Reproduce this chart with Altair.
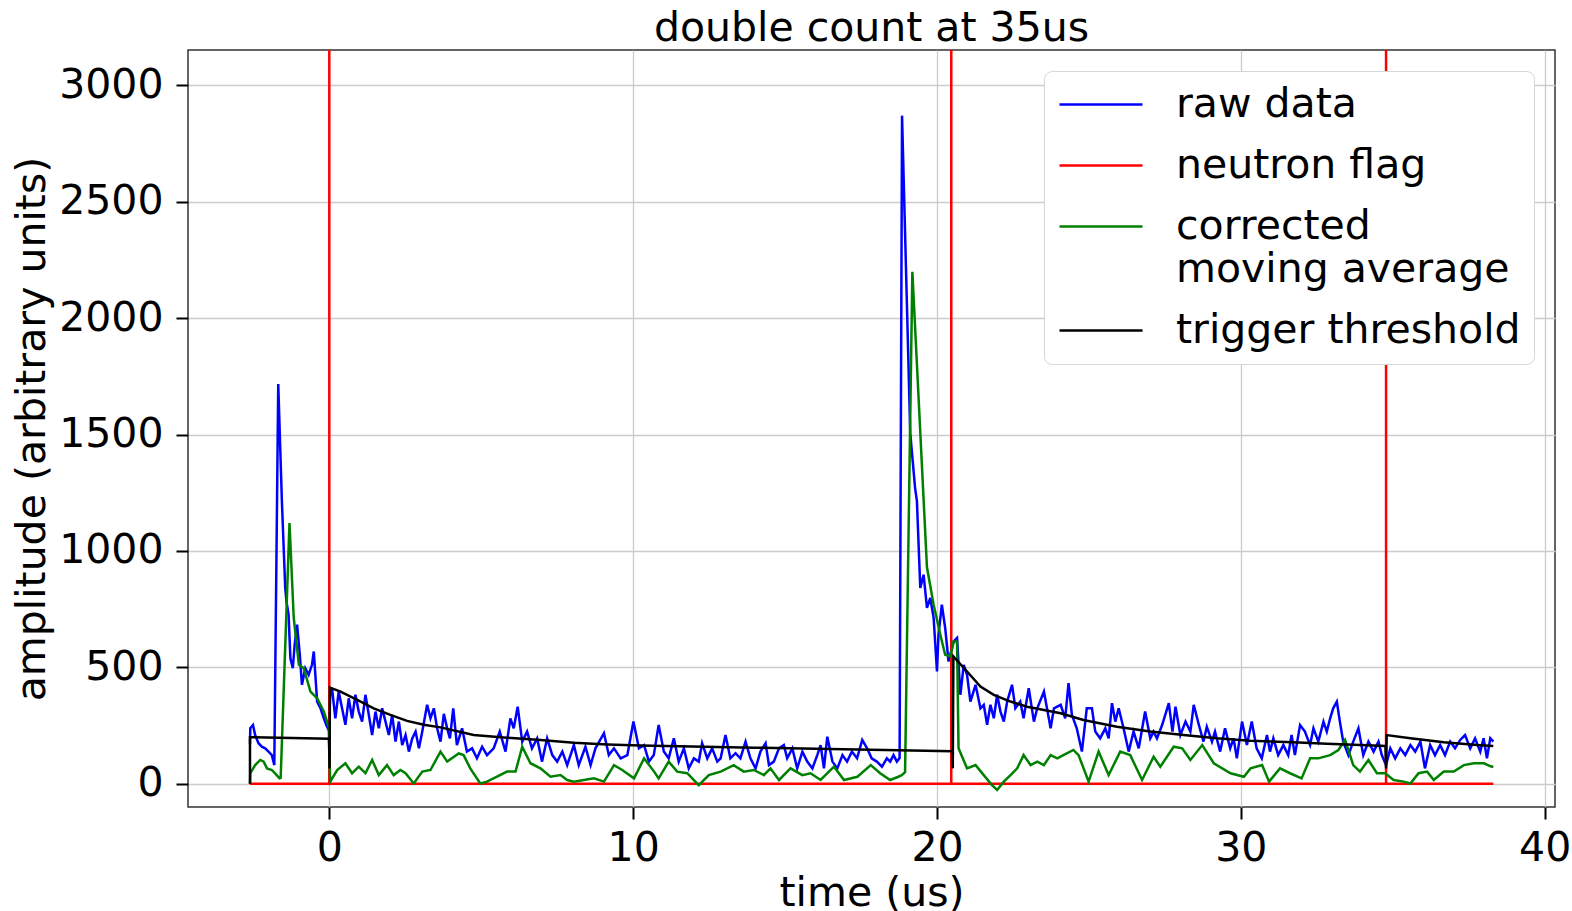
import altair as alt
import pandas as pd

SERIES = ["raw data", "neutron flag", "corrected moving average", "trigger threshold"]
COLORS = ["#0000ff", "#ff0000", "#008000", "#000000"]

raw_t = [-2.61, -2.60, -2.51, -2.44, -2.33, -2.22, -2.11, -2.00, -1.89, -1.81, -1.68, -1.56, -1.45, -1.41,
         -1.34, -1.28, -1.20, -1.14, -1.06, -0.97, -0.90, -0.79, -0.68, -0.57, -0.51, -0.40, -0.29, -0.18,
         -0.10, -0.02, 0.03, 0.09, 0.20, 0.31, 0.42, 0.53, 0.64, 0.75, 0.86, 0.97, 1.08, 1.19, 1.30, 1.41,
         1.52, 1.63, 1.74, 1.85, 1.96, 2.07, 2.18, 2.29, 2.40, 2.51, 2.62, 2.73, 2.84, 2.95, 3.06, 3.22,
         3.33, 3.44, 3.55, 3.66, 3.77, 3.88, 3.97, 4.08, 4.20, 4.37, 4.53, 4.70, 4.86, 5.03, 5.19, 5.41,
         5.61, 5.80, 5.96, 6.07, 6.20, 6.35, 6.51, 6.67, 6.84, 7.00, 7.17, 7.34, 7.50, 7.67, 7.83, 8.05,
         8.21, 8.43, 8.60, 8.76, 9.04, 9.20, 9.37, 9.59, 9.81, 10.01, 10.19, 10.36, 10.52, 10.68, 10.84,
         11.01, 11.17, 11.34, 11.50, 11.67, 11.83, 12.00, 12.16, 12.27, 12.44, 12.60, 12.77, 12.88, 13.04,
         13.20, 13.37, 13.53, 13.70, 13.86, 14.03, 14.19, 14.36, 14.47, 14.63, 14.80, 14.96, 15.07, 15.24,
         15.40, 15.57, 15.73, 15.90, 16.06, 16.17, 16.28, 16.39, 16.56, 16.72, 16.89, 17.04, 17.20, 17.37,
         17.54, 17.70, 17.85, 18.02, 18.19, 18.35, 18.46, 18.57, 18.68, 18.77, 18.85, 19.12, 19.28, 19.34,
         19.45, 19.56, 19.67, 19.78, 19.89, 20.00, 20.05, 20.16, 20.27, 20.38, 20.55, 20.66, 20.77, 20.88,
         20.99, 21.10, 21.27, 21.43, 21.54, 21.65, 21.76, 21.87, 21.98, 22.09, 22.20, 22.31, 22.47, 22.58,
         22.74, 22.85, 23.02, 23.19, 23.30, 23.52, 23.74, 23.85, 24.07, 24.22, 24.33, 24.44, 24.60, 24.77,
         24.93, 25.10, 25.21, 25.37, 25.54, 25.65, 25.76, 25.87, 25.98, 26.14, 26.31, 26.47, 26.64, 26.85,
         27.02, 27.13, 27.24, 27.41, 27.63, 27.75, 27.85, 28.01, 28.18, 28.34, 28.45, 28.62, 28.77, 28.88,
         29.05, 29.15, 29.32, 29.48, 29.65, 29.76, 29.87, 30.04, 30.20, 30.36, 30.52, 30.69, 30.86, 30.96,
         31.07, 31.23, 31.40, 31.56, 31.67, 31.78, 31.95, 32.11, 32.28, 32.39, 32.55, 32.72, 32.83, 32.94,
         33.04, 33.16, 33.26, 33.37, 33.54, 33.70, 33.87, 34.03, 34.20, 34.37, 34.53, 34.64, 34.78, 34.92,
         35.08, 35.25, 35.41, 35.58, 35.74, 35.91, 36.06, 36.23, 36.39, 36.56, 36.72, 36.89, 37.05, 37.22,
         37.38, 37.55, 37.71, 37.88, 37.99, 38.10, 38.21, 38.31]
raw_v = [170, 238, 252, 209, 174, 159, 152, 138, 123, 80, 1717, 1214, 841, 783,
         726, 539, 496, 597, 683, 554, 425, 496, 468, 511, 568, 353, 324, 281,
         253, 230, 380, 410, 281, 396, 324, 253, 367, 281, 382, 310, 267, 382, 296, 209,
         310, 238, 324, 267, 209, 296, 181, 267, 166, 209, 138, 195, 224, 152, 224, 339,
         281, 324, 238, 181, 300, 238, 195, 324, 166, 238, 138, 152, 109, 159, 123, 152,
         224, 138, 281, 238, 331, 181, 224, 152, 195, 95, 195, 123, 95, 138, 80, 166,
         80, 159, 80, 152, 217, 123, 152, 109, 123, 267, 152, 166, 95, 123, 252,
         138, 109, 195, 95, 152, 66, 109, 95, 174, 109, 152, 95, 109, 209,
         109, 131, 109, 181, 109, 66, 138, 174, 80, 95, 152, 166, 109, 152,
         66, 138, 95, 66, 123, 166, 66, 202, 95, 66, 123, 95, 138, 109,
         188, 152, 109, 95, 73, 109, 95, 123, 95, 110, 2870, 1506, 1270, 1214,
         841, 898, 755, 798, 712, 482, 640, 769, 669, 525, 611, 626, 382, 511,
         468, 353, 425, 324, 339, 253, 339, 281, 382, 310, 267, 353, 425, 324,
         353, 281, 410, 267, 324, 396, 238, 324, 339, 281, 432, 296, 238, 138,
         324, 324, 224, 195, 238, 195, 346, 267, 324, 238, 138, 224, 152, 310,
         195, 224, 195, 252, 346, 224, 331, 209, 267, 224, 339, 252, 181, 245,
         181, 224, 138, 238, 152, 195, 109, 267, 166, 267, 152, 109, 209, 138,
         195, 123, 166, 123, 209, 123, 252, 224, 166, 238, 181, 267, 224, 281,
         324, 353, 267, 181, 123, 181, 238, 123, 181, 138, 181, 123, 80, 152,
         109, 152, 123, 166, 138, 181, 66, 166, 123, 166, 123, 181, 152, 188,
         209, 152, 195, 138, 195, 109, 195, 181]

ma_t = [-2.61, -2.60, -2.44, -2.27, -2.16, -2.05, -1.89, -1.73, -1.64, -1.60, -1.31, -1.17, -1.00, -0.84,
        -0.62, -0.40, -0.18, -0.02, 0.03, 0.26, 0.53, 0.75, 0.97, 1.19, 1.41, 1.63, 1.90, 2.12, 2.34,
        2.51, 2.78, 3.06, 3.33, 3.66, 3.88, 4.26, 4.42, 4.64, 4.97, 5.19, 5.52, 5.85, 6.13, 6.35, 6.62,
        6.95, 7.28, 7.61, 7.83, 8.05, 8.38, 8.71, 9.04, 9.37, 9.64, 10.03, 10.36, 10.69, 10.84, 11.17,
        11.45, 11.78, 12.16, 12.49, 12.88, 13.31, 13.64, 13.97, 14.30, 14.52, 14.80, 15.18, 15.57, 15.84,
        16.17, 16.61, 16.94, 17.38, 17.82, 18.13, 18.46, 18.73, 18.84, 18.95, 19.19, 19.67, 19.89, 20.11,
        20.27, 20.44, 20.55, 20.66, 20.71, 20.99, 21.27, 21.54, 21.81, 21.98, 22.20, 22.42, 22.64, 22.85,
        23.08, 23.30, 23.52, 23.74, 23.96, 24.16, 24.49, 24.66, 24.99, 25.32, 25.65, 26.03, 26.36, 26.75,
        27.13, 27.35, 27.79, 28.07, 28.34, 28.73, 29.11, 29.66, 30.10, 30.32, 30.70, 30.93, 31.29, 31.62,
        32.00, 32.28, 32.55, 32.94, 33.21, 33.43, 33.70, 33.92, 34.20, 34.48, 34.75, 35.03, 35.36, 35.58,
        35.85, 36.13, 36.35, 36.68, 37.01, 37.34, 37.67, 38.00, 38.22, 38.31]
ma_v = [0, 45, 80, 102, 95, 66, 59, 37, 23, 25, 1120, 712, 511, 496,
        396, 367, 310, 245, 9, 59, 88, 45, 73, 45, 102, 37, 80, 37, 59,
        45, 1, 52, 59, 138, 95, 130, 123, 66, 1, 9, 30, 52, 52, 159, 88,
        66, 30, 37, 16, 9, 16, 23, 9, 80, 59, 23, 109, 52, 23, 95,
        52, 45, -6, 37, 52, 80, 52, 59, 37, 66, 16, 66, 37, 45,
        16, 73, 16, 30, 80, 45, 16, 30, 37, 50, 2199, 930, 769, 640,
        554, 547, 611, 611, 152, 66, 80, 37, -6, -27, 9, 37, 66, 123,
        80, 95, 80, 123, 109, 123, 145, 123, 9, 138, 37, 138, 123, 16,
        116, 73, 159, 152, 102, 166, 88, 45, 30, 66, 80, 9, 66, 45,
        23, 109, 109, 123, 145, 188, 80, 52, 102, 45, 45, 16, 9, 1,
        45, 52, 16, 52, 52, 80, 88, 88, 75, 72]

thr_t = [-2.61, -2.61, -0.01, 0.01, 0.02, 0.37, 0.92, 1.46, 2.01, 2.56, 3.11, 3.66, 4.75, 5.85, 6.95,
         8.05, 9.15, 10.25, 14.00, 17.82, 20.50, 20.52, 20.54, 20.99, 21.43, 21.87, 22.42, 22.97, 23.52,
         24.07, 24.82, 25.92, 27.02, 28.12, 29.21, 30.31, 31.73, 32.83, 33.93, 34.76, 34.78, 34.80,
         35.58, 36.68, 37.78, 38.31]
thr_v = [0, 200, 193, 66, 413, 396, 360, 324, 296, 270, 253, 242, 209, 198, 188,
         176, 169, 164, 155, 146, 140, 66, 547, 482, 417, 382, 353, 331, 317,
         303, 274, 245, 224, 209, 195, 185, 178, 172, 166, 162, 66, 209,
         195, 178, 166, 162]

flag_t = [-2.61, 0.0, 0.0, 0.0, 20.47, 20.47, 20.47, 34.78, 34.78, 34.78, 38.31]
flag_v = [0, 0, 5000, 0, 0, 5000, 0, 0, 5000, 0, 0]

x_ticks = [0, 10, 20, 30, 40]
y_ticks = [0, 500, 1000, 1500, 2000, 2500, 3000]

FONT = "DejaVu Sans"
FS = 41


def frame(ts, vs, name):
    return pd.DataFrame({"t": ts, "v": vs, "series": name, "i": list(range(len(ts)))})


frames = [frame(raw_t, raw_v, SERIES[0]), frame(flag_t, flag_v, SERIES[1]),
          frame(ma_t, ma_v, SERIES[2]), frame(thr_t, thr_v, SERIES[3])]

x = alt.X("t:Q", scale=alt.Scale(domain=[-4.65, 40.34], nice=False, zero=False),
          axis=alt.Axis(values=x_ticks, title="time (us)", format="d"))
y = alt.Y("v:Q", scale=alt.Scale(domain=[-100, 3152], nice=False, zero=False),
          axis=alt.Axis(values=y_ticks, title="amplitude (arbitrary units)", format="d"))
color = alt.Color(
    "series:N",
    scale=alt.Scale(domain=SERIES, range=COLORS),
    legend=alt.Legend(
        title=None, orient="none", legendX=856, legendY=21,
        symbolType="M-3.6,0L13,0", symbolSize=100, symbolStrokeWidth=2.5,
        labelFontSize=FS, labelFont=FONT, labelColor="black", labelLimit=800,
        labelOffset=78, rowPadding=19, padding=13,
        fillColor="white", strokeColor="#d6d6d6", cornerRadius=8,
        labelExpr="datum.label == 'corrected moving average' ? ['corrected', 'moving average'] : datum.label",
    ),
)

layers = [
    alt.Chart(df).mark_line(clip=True, strokeWidth=2.5).encode(x=x, y=y, color=color, order="i:Q")
    for df in frames
]

chart = (
    alt.layer(*layers)
    .properties(
        width=1367, height=757, autosize="none",
        padding={"left": 188, "top": 50, "right": 17, "bottom": 104},
        title=alt.Title("double count at 35us", fontSize=FS, font=FONT,
                        fontWeight="normal", color="black", offset=0),
    )
    .configure_view(stroke="#333333", strokeWidth=1.5)
    .configure_axis(
        labelFontSize=FS, labelFont=FONT, labelColor="black",
        titleFontSize=FS, titleFont=FONT, titleColor="black", titleFontWeight="normal",
        grid=True, gridColor="#cccccc", gridWidth=1.3,
        domain=False, tickColor="black", tickWidth=2, tickSize=12,
    )
    .configure_axisX(labelPadding=9, titlePadding=5)
    .configure_axisY(labelPadding=13, titlePadding=5)
)

chart.save("out.html", embed_options={"renderer": "svg", "actions": False})
